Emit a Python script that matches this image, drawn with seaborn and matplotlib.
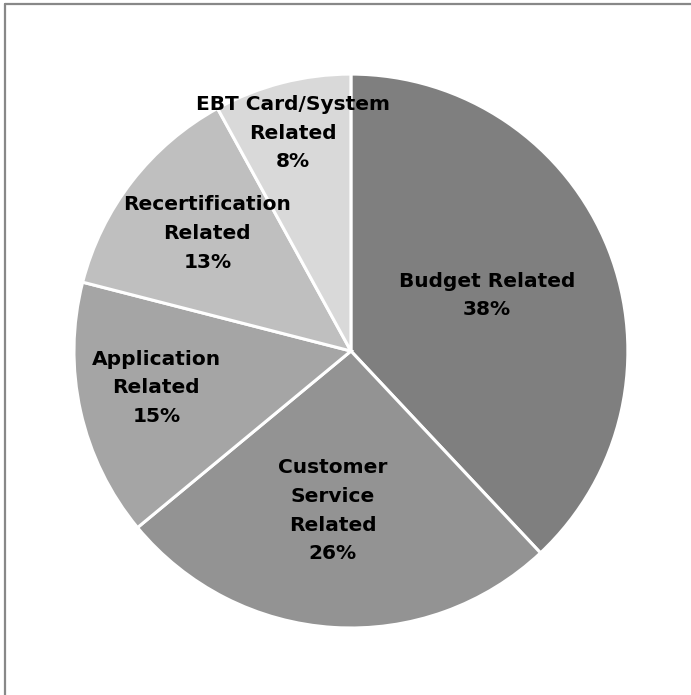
import matplotlib
matplotlib.use("Agg")
import matplotlib.pyplot as plt
from matplotlib.lines import Line2D
import numpy as np
import seaborn as sns

# Complaint categories, listed clockwise from 12 o'clock
categories = ["Budget Related", "Customer\nService\nRelated", "Application\nRelated",
              "Recertification\nRelated", "EBT Card/System\nRelated"]
shares = [38, 26, 15, 13, 8]
colors = ["#7f7f7f", "#939393", "#a5a5a5", "#bfbfbf", "#d9d9d9"]
# label placement: distance from centre (fraction of radius) and angular nudge (deg)
label_radius = [0.53, 0.58, 0.715, 0.67, 0.815]
label_nudge = [0.6, -2.9, -1.9, -1.5, 0.6]

sns.set_theme(style="white")
plt.rcParams["font.family"] = ["DejaVu Sans"]

fig = plt.figure(figsize=(6.91, 6.95), dpi=100)
ax = fig.add_axes([0.107, 0.0964, 0.8017, 0.797])

wedges, _ = ax.pie(shares, colors=colors, startangle=90, counterclock=False,
                   radius=1.0,
                   wedgeprops=dict(edgecolor="white", linewidth=2.2))

for w, cat, val, r, nudge in zip(wedges, categories, shares, label_radius, label_nudge):
    mid = np.deg2rad((w.theta1 + w.theta2) / 2 + nudge)
    ax.text(r * np.cos(mid), r * np.sin(mid), f"{cat}\n{val}%",
            ha="center", va="center", fontsize=14.5, fontweight="bold",
            color="black", linespacing=1.65)

ax.set_xlim(-1, 1)
ax.set_ylim(-1, 1)
ax.set_aspect("equal")
ax.axis("off")

# chart frame (top and left edges)
fig.add_artist(Line2D([4.5 / 691, 1.0], [1 - 3.5 / 695, 1 - 3.5 / 695],
                      transform=fig.transFigure, color="#888888", linewidth=1.6))
fig.add_artist(Line2D([4.5 / 691, 4.5 / 691], [0.0, 1 - 3.5 / 695],
                      transform=fig.transFigure, color="#888888", linewidth=1.6))

fig.savefig("out.png", dpi=100, facecolor="white")
